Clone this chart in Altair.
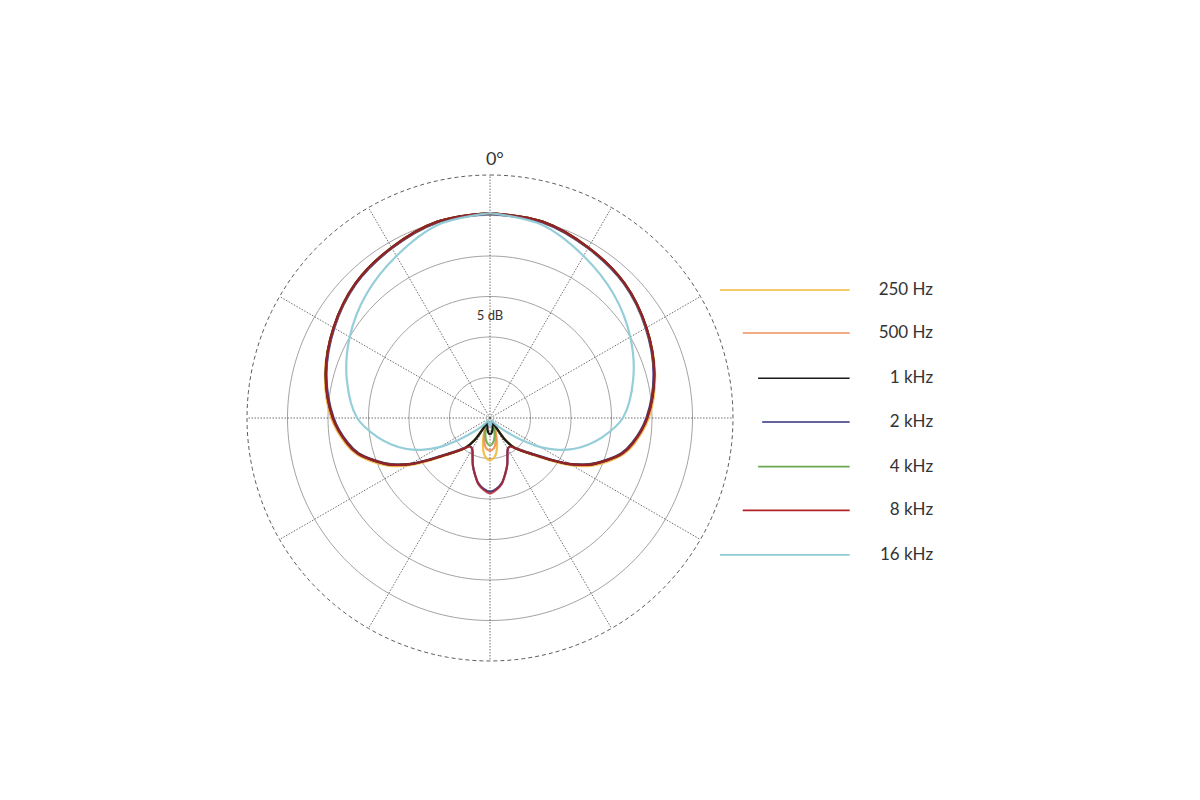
import altair as alt
import pandas as pd

# ---- data (half pattern 0..180 deg, symmetric) ----
ANGLES = [0, 15, 30, 45, 60, 75, 90, 100, 105, 110, 115, 120, 125, 130, 135,
          140, 145, 150, 155, 160, 165, 170, 175, 180]

R_250 = [25.3, 25.1, 24.3, 23.5, 22.3, 21.1, 19.6, 18.1, 17.1, 15.6, 13.9, 11.7, 9.2, 7.2, 5.9,
         4.9, 3.2, 0.8, 1.5, 2.3, 3.4, 4.4, 5.0, 5.2]
R_500 = [25.3, 25.1, 24.3, 23.5, 22.3, 21.0, 19.5, 18.0, 17.0, 15.4, 13.7, 11.5, 9.0, 7.1, 5.8,
         4.9, 3.3, 1.0, 1.3, 2.0, 2.8, 3.5, 3.9, 4.0]
R_1K = [25.3, 25.1, 24.3, 23.5, 22.3, 21.0, 19.4, 17.9, 16.9, 15.3, 13.6, 11.4, 8.9, 7.0, 5.8,
        4.9, 3.4, 0.6, 0.5, 0.8, 1.2, 1.6, 1.9, 2.0]
R_2K = [25.2, 25.0, 24.2, 23.4, 22.2, 20.9, 19.3, 17.8, 16.8, 15.2, 13.5, 11.3, 8.8, 6.9, 5.7,
        4.8, 4.3, 4.4, 5.1, 6.2, 7.2, 8.2, 8.8, 9.1]
R_4K = [25.3, 25.1, 24.3, 23.5, 22.3, 21.0, 19.4, 17.9, 16.9, 15.3, 13.6, 11.4, 8.9, 7.0, 5.8,
        4.9, 3.5, 1.2, 1.0, 1.5, 2.2, 2.8, 3.2, 3.4]
R_8K = [25.3, 25.1, 24.3, 23.5, 22.3, 21.0, 19.4, 17.9, 16.9, 15.3, 13.6, 11.4, 8.9, 7.0, 5.8,
        4.9, 4.3, 4.4, 5.1, 6.2, 7.2, 8.3, 8.9, 9.3]
R_16K = [25.3, 24.7, 23.1, 21.6, 20.0, 18.3, 16.4, 14.0, 12.6, 11.1, 9.3, 7.2, 4.7, 2.7, 1.5,
         0.8, 0.5, 0.4, 0.4, 0.5, 0.6, 0.8, 0.9, 1.0]

SERIES = ["250 Hz", "500 Hz", "1 kHz", "2 kHz", "4 kHz", "8 kHz", "16 kHz"]
VALUES = [R_250, R_500, R_1K, R_2K, R_4K, R_8K, R_16K]
COLORS = ["#f3b93a", "#ee8f58", "#1e1a1a", "#2f2f7c", "#6aa84f", "#b3222a", "#8fcbd7"]
DRAW_ORDER = ["2 kHz", "250 Hz", "500 Hz", "4 kHz", "1 kHz", "8 kHz", "16 kHz"]
OPACITY = {"1 kHz": 1.0, "250 Hz": 0.9, "500 Hz": 0.9, "4 kHz": 0.9,
           "2 kHz": 0.9, "8 kHz": 0.8, "16 kHz": 0.95}

RING_LEVELS = [5, 10, 15, 20, 25]
OUTER_LEVEL = 30
SPOKE_ANGLES = list(range(0, 360, 30))

LABELS = ["0°", "5 dB"]
LABEL_X = [0.6, 0.0]
LABEL_Y = [31.8, 12.6]
LABEL_SIZE = [18, 13]

# ---- legend layout ----
LEGEND_Y = [15.8, 10.5, 4.9, -0.5, -6.0, -11.4, -16.9]
LEGEND_X0 = [28.4, 31.2, 33.1, 33.6, 33.1, 31.2, 28.4]
LEGEND_X1 = 44.4
LEGEND_TEXT_X = 54.7

FONT = "Lato"

# ---- build tables ----
rows = []
for name, vals in zip(SERIES, VALUES):
    full_a = ANGLES + [360 - a for a in ANGLES[-2::-1]]
    full_r = vals + vals[-2::-1]
    for i, (a, r) in enumerate(zip(full_a, full_r)):
        rows.append({"series": name, "angle": a, "r": r, "i": i})
curves_df = pd.DataFrame(rows)

ring_rows = []
for lvl in RING_LEVELS + [OUTER_LEVEL]:
    for i, a in enumerate(range(0, 361, 2)):
        ring_rows.append({"level": lvl, "angle": a, "i": i})
rings_df = pd.DataFrame(ring_rows)

spokes_df = pd.DataFrame({"angle": SPOKE_ANGLES, "r": [OUTER_LEVEL] * len(SPOKE_ANGLES)})

legend_df = pd.DataFrame({"series": SERIES, "y": LEGEND_Y, "x0": LEGEND_X0,
                          "x1": [LEGEND_X1] * len(SERIES),
                          "tx": [LEGEND_TEXT_X] * len(SERIES)})

labels_df = pd.DataFrame({"t": LABELS, "x": LABEL_X, "y": LABEL_Y, "s": LABEL_SIZE})

xs = alt.Scale(domain=[-30, 30], nice=False, zero=False)
ys = alt.Scale(domain=[-30, 30], nice=False, zero=False)
color_scale = alt.Scale(domain=SERIES, range=COLORS)

X = alt.X("x:Q", scale=xs, axis=None)
Y = alt.Y("y:Q", scale=ys, axis=None)

inner_rings = alt.Chart(rings_df).transform_filter(f"datum.level < {OUTER_LEVEL}").transform_calculate(
    x="datum.level * sin(datum.angle * PI / 180)",
    y="datum.level * cos(datum.angle * PI / 180)",
).mark_line(stroke="#8c8c8c", strokeWidth=0.8).encode(
    x=X, y=Y, detail="level:N", order="i:Q",
)

outer_ring = alt.Chart(rings_df).transform_filter(f"datum.level == {OUTER_LEVEL}").transform_calculate(
    x="datum.level * sin(datum.angle * PI / 180)",
    y="datum.level * cos(datum.angle * PI / 180)",
).mark_line(stroke="#5e5e5e", strokeWidth=1, strokeDash=[4, 3]).encode(
    x=X, y=Y, order="i:Q",
)

spokes = alt.Chart(spokes_df).transform_calculate(
    x0="0 * datum.r", y0="0 * datum.r",
    x="datum.r * sin(datum.angle * PI / 180)",
    y="datum.r * cos(datum.angle * PI / 180)",
).mark_rule(stroke="#5f5f5f", strokeWidth=0.9, strokeDash=[1.5, 1.5]).encode(
    x=alt.X("x0:Q", scale=xs, axis=None),
    y=alt.Y("y0:Q", scale=ys, axis=None),
    x2="x:Q",
    y2="y:Q",
)

curve_layers = []
for name in DRAW_ORDER:
    curve_layers.append(
        alt.Chart(curves_df).transform_filter(alt.datum.series == name)
        .transform_calculate(
            x="datum.r * sin(datum.angle * PI / 180)",
            y="datum.r * cos(datum.angle * PI / 180)",
        )
        .mark_line(strokeWidth=2.2, interpolate="catmull-rom", opacity=OPACITY[name])
        .encode(
            x=X, y=Y,
            color=alt.Color("series:N", scale=color_scale, legend=None),
            order="i:Q",
        )
    )

labels = alt.Chart(labels_df).mark_text(
    font=FONT, color="#333333", baseline="middle", align="center"
).encode(x=X, y=Y, text="t:N", size=alt.Size("s:Q", scale=None, legend=None))

legend_lines = alt.Chart(legend_df).mark_rule(strokeWidth=1.6).encode(
    x=alt.X("x0:Q", scale=xs, axis=None),
    x2="x1:Q",
    y=alt.Y("y:Q", scale=ys, axis=None),
    color=alt.Color("series:N", scale=color_scale, legend=None),
)

legend_text = alt.Chart(legend_df).mark_text(
    font=FONT, fontSize=17, color="#333333", align="right", baseline="middle"
).encode(
    x=alt.X("tx:Q", scale=xs, axis=None),
    y=alt.Y("y:Q", scale=ys, axis=None),
    text="series:N",
)

chart = alt.layer(
    inner_rings, outer_ring, spokes, *curve_layers, labels,
    legend_lines, legend_text
).properties(
    width=486, height=486,
    autosize=alt.AutoSizeParams(type="none"),
    padding={"left": 239, "top": 167, "right": 260, "bottom": 120},
).configure_view(stroke=None)

chart.save("out.html", embed_options={"renderer": "svg", "actions": False})
